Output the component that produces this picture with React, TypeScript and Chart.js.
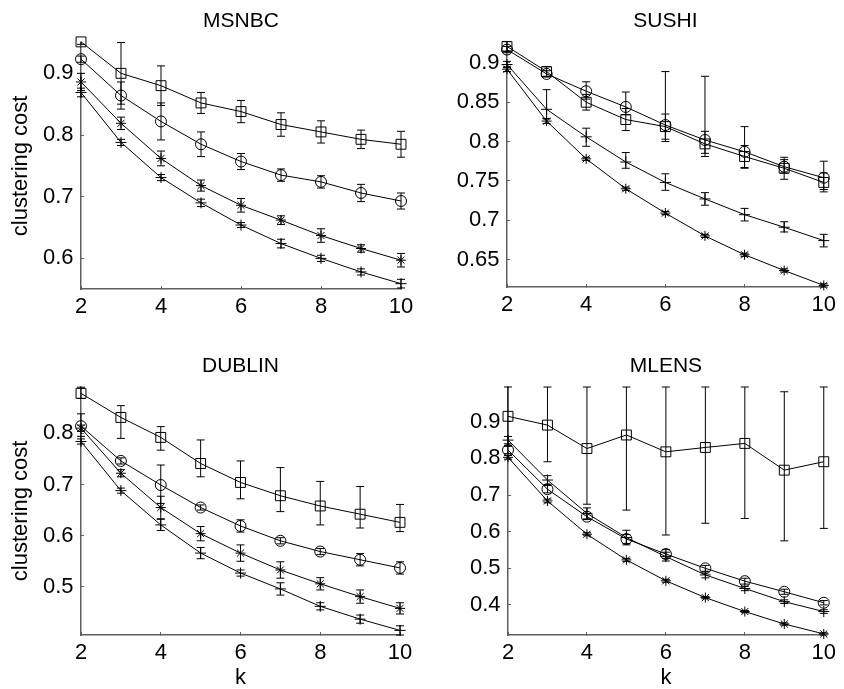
import React, { useEffect, useRef } from 'react';
import { Chart, registerables } from 'chart.js';

Chart.register(...registerables);

const FONT = "'Liberation Sans', Arial, Helvetica, sans-serif";
const AXIS_COLOR = '#5e5e5e';

// shared x values / ticks
const K = [2, 3, 4, 5, 6, 7, 8, 9, 10];
const X_TICKS = [2, 4, 6, 8, 10];

// ---------------- MSNBC ----------------
const MSNBC_Y_TICKS = [0.6, 0.7, 0.8, 0.9];
const MSNBC_Y_RANGE = [0.55, 0.95];
const MSNBC_SQ = [0.951, 0.9, 0.88, 0.852, 0.838, 0.817, 0.805, 0.793, 0.785];
const MSNBC_SQ_ERR = [0.004, 0.05, 0.032, 0.017, 0.018, 0.019, 0.018, 0.015, 0.021];
const MSNBC_CI = [0.923, 0.864, 0.822, 0.785, 0.757, 0.735, 0.724, 0.706, 0.693];
const MSNBC_CI_ERR = [0.005, 0.022, 0.03, 0.02, 0.013, 0.01, 0.01, 0.014, 0.013];
const MSNBC_ST = [0.886, 0.819, 0.762, 0.718, 0.686, 0.662, 0.637, 0.616, 0.597];
const MSNBC_ST_ERR = [0.014, 0.01, 0.012, 0.009, 0.011, 0.007, 0.011, 0.006, 0.011];
const MSNBC_PL = [0.869, 0.788, 0.731, 0.69, 0.654, 0.624, 0.6, 0.578, 0.559];
const MSNBC_PL_ERR = [0.007, 0.005, 0.005, 0.006, 0.004, 0.007, 0.005, 0.005, 0.007];

// ---------------- SUSHI ----------------
const SUSHI_Y_TICKS = [0.65, 0.7, 0.75, 0.8, 0.85, 0.9];
const SUSHI_Y_RANGE = [0.615, 0.927];
const SUSHI_SQ = [0.921, 0.889, 0.85, 0.828, 0.819, 0.797, 0.781, 0.766, 0.748];
const SUSHI_SQ_ERR = [0.006, 0.006, 0.01, 0.014, 0.016, 0.016, 0.014, 0.014, 0.012];
const SUSHI_CI = [0.917, 0.886, 0.864, 0.844, 0.821, 0.802, 0.787, 0.768, 0.754];
const SUSHI_CI_ERR = [0.004, 0.004, 0.01, 0.01, 0.021, 0.017, 0.021, 0.008, 0.015];
const SUSHI_CI_ERR_UP = [0.004, 0.004, 0.012, 0.019, 0.068, 0.081, 0.032, 0.009, 0.021];
const SUSHI_PL = [0.898, 0.841, 0.806, 0.774, 0.748, 0.727, 0.707, 0.691, 0.674];
const SUSHI_PL_ERR = [0.004, 0.012, 0.012, 0.008, 0.01, 0.008, 0.008, 0.006, 0.008];
const SUSHI_PL_ERR_UP = [0.004, 0.025, 0.011, 0.012, 0.011, 0.008, 0.008, 0.007, 0.008];
const SUSHI_ST = [0.892, 0.826, 0.778, 0.74, 0.709, 0.68, 0.656, 0.636, 0.617];
const SUSHI_ST_ERR = [0.003, 0.003, 0.002, 0.002, 0.002, 0.002, 0.002, 0.002, 0.002];

// ---------------- DUBLIN ----------------
const DUBLIN_Y_TICKS = [0.5, 0.6, 0.7, 0.8];
const DUBLIN_Y_RANGE = [0.406, 0.891];
const DUBLIN_SQ = [0.878, 0.831, 0.792, 0.741, 0.704, 0.678, 0.658, 0.642, 0.626];
const DUBLIN_SQ_ERR = [0.01, 0.041, 0.025, 0.026, 0.032, 0.031, 0.037, 0.027, 0.018];
const DUBLIN_SQ_ERR_UP = [0.012, 0.023, 0.021, 0.046, 0.042, 0.055, 0.048, 0.054, 0.035];
const DUBLIN_CI = [0.814, 0.746, 0.699, 0.655, 0.619, 0.59, 0.569, 0.553, 0.537];
const DUBLIN_CI_ERR = [0.02, 0.006, 0.036, 0.005, 0.012, 0.006, 0.006, 0.012, 0.012];
const DUBLIN_CI_ERR_UP = [0.024, 0.006, 0.039, 0.005, 0.012, 0.006, 0.006, 0.012, 0.012];
const DUBLIN_ST = [0.81, 0.722, 0.655, 0.604, 0.566, 0.533, 0.506, 0.481, 0.458];
const DUBLIN_ST_ERR = [0.006, 0.007, 0.022, 0.014, 0.016, 0.016, 0.012, 0.013, 0.011];
const DUBLIN_PL = [0.784, 0.688, 0.621, 0.566, 0.527, 0.496, 0.462, 0.437, 0.415];
const DUBLIN_PL_ERR = [0.005, 0.005, 0.011, 0.011, 0.006, 0.012, 0.007, 0.008, 0.009];

// ---------------- MLENS ----------------
const MLENS_Y_TICKS = [0.4, 0.5, 0.6, 0.7, 0.8, 0.9];
const MLENS_Y_RANGE = [0.318, 0.995];
const MLENS_SQ = [0.915, 0.891, 0.827, 0.864, 0.818, 0.83, 0.841, 0.768, 0.791];
const MLENS_SQ_ERR = [0.08, 0.1, 0.152, 0.205, 0.227, 0.207, 0.205, 0.193, 0.182];
const MLENS_SQ_ERR_UP = [0.08, 0.104, 0.168, 0.131, 0.177, 0.165, 0.154, 0.214, 0.204];
const MLENS_CI = [0.823, 0.716, 0.641, 0.58, 0.539, 0.5, 0.465, 0.436, 0.406];
const MLENS_CI_ERR = [0.01, 0.01, 0.008, 0.012, 0.012, 0.008, 0.008, 0.007, 0.006];
const MLENS_PL = [0.85, 0.741, 0.65, 0.584, 0.532, 0.482, 0.445, 0.409, 0.382];
const MLENS_PL_ERR = [0.01, 0.012, 0.015, 0.02, 0.012, 0.008, 0.006, 0.005, 0.005];
const MLENS_ST = [0.803, 0.684, 0.593, 0.523, 0.466, 0.42, 0.382, 0.348, 0.321];
const MLENS_ST_ERR = [0.005, 0.005, 0.004, 0.004, 0.004, 0.003, 0.003, 0.003, 0.003];

type Series = { values: number[]; errDown: number[]; errUp: number[]; marker: string };

const ser = (values: number[], errDown: number[], marker: string, errUp?: number[]): Series => ({
  values,
  errDown,
  errUp: errUp || errDown,
  marker,
});

const MARKER_RADIUS: Record<string, number> = { rect: 7, circle: 5.5, cross: 5.5, star: 5 };

type Panel = {
  title: string;
  yTicks: number[];
  yRange: number[];
  series: Series[];
  yTitle: boolean;
  xTitle: boolean;
  // layout (pixels)
  box: number[]; // left, top, width, height
  yAxisWidth: number;
  xAxisHeight: number;
  padRight: number;
  titlePad: number[]; // top, bottom
};

const PANELS: Panel[] = [
  {
    title: 'MSNBC',
    yTicks: MSNBC_Y_TICKS,
    yRange: MSNBC_Y_RANGE,
    series: [
      ser(MSNBC_SQ, MSNBC_SQ_ERR, 'rect'),
      ser(MSNBC_CI, MSNBC_CI_ERR, 'circle'),
      ser(MSNBC_ST, MSNBC_ST_ERR, 'star'),
      ser(MSNBC_PL, MSNBC_PL_ERR, 'cross'),
    ],
    yTitle: true,
    xTitle: false,
    box: [0, 0, 422, 340],
    yAxisWidth: 81,
    xAxisHeight: 50.8,
    padRight: 21,
    titlePad: [9.1, 8.2],
  },
  {
    title: 'SUSHI',
    yTicks: SUSHI_Y_TICKS,
    yRange: SUSHI_Y_RANGE,
    series: [
      ser(SUSHI_SQ, SUSHI_SQ_ERR, 'rect'),
      ser(SUSHI_CI, SUSHI_CI_ERR, 'circle', SUSHI_CI_ERR_UP),
      ser(SUSHI_PL, SUSHI_PL_ERR, 'cross', SUSHI_PL_ERR_UP),
      ser(SUSHI_ST, SUSHI_ST_ERR, 'star'),
    ],
    yTitle: false,
    xTitle: false,
    box: [422, 0, 422, 340],
    yAxisWidth: 85,
    xAxisHeight: 53,
    padRight: 15,
    titlePad: [9.1, 7.4],
  },
  {
    title: 'DUBLIN',
    yTicks: DUBLIN_Y_TICKS,
    yRange: DUBLIN_Y_RANGE,
    series: [
      ser(DUBLIN_SQ, DUBLIN_SQ_ERR, 'rect', DUBLIN_SQ_ERR_UP),
      ser(DUBLIN_CI, DUBLIN_CI_ERR, 'circle', DUBLIN_CI_ERR_UP),
      ser(DUBLIN_ST, DUBLIN_ST_ERR, 'star'),
      ser(DUBLIN_PL, DUBLIN_PL_ERR, 'cross'),
    ],
    yTitle: true,
    xTitle: true,
    box: [0, 340, 422, 349],
    yAxisWidth: 81,
    xAxisHeight: 54,
    padRight: 22,
    titlePad: [14.1, 7.4],
  },
  {
    title: 'MLENS',
    yTicks: MLENS_Y_TICKS,
    yRange: MLENS_Y_RANGE,
    series: [
      ser(MLENS_SQ, MLENS_SQ_ERR, 'rect', MLENS_SQ_ERR_UP),
      ser(MLENS_CI, MLENS_CI_ERR, 'circle'),
      ser(MLENS_PL, MLENS_PL_ERR, 'cross'),
      ser(MLENS_ST, MLENS_ST_ERR, 'star'),
    ],
    yTitle: false,
    xTitle: true,
    box: [422, 340, 422, 349],
    yAxisWidth: 86,
    xAxisHeight: 54,
    padRight: 15,
    titlePad: [14.1, 7.7],
  },
];

const errorBarPlugin = {
  id: 'errorBars',
  afterDatasetsDraw(chart: any) {
    const { ctx, chartArea, scales } = chart;
    const xs = scales.x;
    const ys = scales.y;
    const cap = 4;
    ctx.save();
    ctx.beginPath();
    ctx.rect(chartArea.left - 20, chartArea.top - 1, chartArea.right - chartArea.left + 40, chartArea.bottom - chartArea.top + 2);
    ctx.clip();
    ctx.strokeStyle = '#000';
    ctx.lineWidth = 1;
    ctx.beginPath();
    chart.data.datasets.forEach((ds: any) => {
      ds.data.forEach((p: any, i: number) => {
        const px = xs.getPixelForValue(p.x);
        const yLo = ys.getPixelForValue(p.y - ds.errLow[i]);
        const yHi = ys.getPixelForValue(p.y + ds.errHigh[i]);
        ctx.moveTo(px, yHi);
        ctx.lineTo(px, yLo);
        ctx.moveTo(px - cap, yHi);
        ctx.lineTo(px + cap, yHi);
        ctx.moveTo(px - cap, yLo);
        ctx.lineTo(px + cap, yLo);
      });
    });
    ctx.stroke();
    ctx.restore();
  },
};

const fmt = (v: number) => String(Math.round(v * 100) / 100);

function PanelChart({ cfg }: { cfg: Panel }) {
  const ref = useRef<HTMLCanvasElement>(null);
  useEffect(() => {
    const canvas = ref.current;
    if (!canvas) return;
    const chart = new Chart(canvas, {
      type: 'line',
      data: {
        datasets: cfg.series.map((s) => ({
          data: K.map((k, i) => ({ x: k, y: s.values[i] })),
          errLow: s.errDown,
          errHigh: s.errUp,
          borderColor: '#000',
          borderWidth: 1,
          pointStyle: s.marker,
          pointRadius: MARKER_RADIUS[s.marker],
          pointBorderColor: '#000',
          pointBackgroundColor: 'rgba(0,0,0,0)',
          pointBorderWidth: 1,
          tension: 0,
          fill: false,
          clip: false,
        })) as any,
      },
      options: {
        responsive: false,
        animation: false,
        events: [],
        layout: { padding: { left: 0, right: cfg.padRight, top: 0, bottom: 0 } },
        plugins: {
          legend: { display: false },
          tooltip: { enabled: false },
          title: {
            display: true,
            text: cfg.title,
            fullSize: false,
            color: '#000',
            font: { family: FONT, size: 21, weight: 'normal', lineHeight: 1.2 },
            padding: { top: cfg.titlePad[0], bottom: cfg.titlePad[1] },
          },
        },
        scales: {
          x: {
            type: 'linear',
            min: 2,
            max: 10,
            afterBuildTicks: (s: any) => {
              s.ticks = X_TICKS.map((v) => ({ value: v }));
            },
            afterFit: (s: any) => {
              s.height = cfg.xAxisHeight;
            },
            grid: { display: true, drawOnChartArea: false, drawTicks: true, tickLength: -3, color: AXIS_COLOR, lineWidth: 1 },
            border: { display: true, color: AXIS_COLOR, width: 1.5 },
            ticks: {
              color: '#000',
              font: { family: FONT, size: 22 },
              padding: 8,
              maxRotation: 0,
              autoSkip: false,
              callback: (v: any) => fmt(Number(v)),
            },
            title: {
              display: cfg.xTitle,
              text: 'k',
              color: '#000',
              font: { family: FONT, size: 22, lineHeight: 1 },
              padding: { top: 0, bottom: 0.5 },
            },
          },
          y: {
            type: 'linear',
            min: cfg.yRange[0],
            max: cfg.yRange[1],
            afterBuildTicks: (s: any) => {
              s.ticks = cfg.yTicks.map((v) => ({ value: v }));
            },
            afterFit: (s: any) => {
              s.width = cfg.yAxisWidth;
            },
            grid: { display: true, drawOnChartArea: false, drawTicks: true, tickLength: -3, color: AXIS_COLOR, lineWidth: 1 },
            border: { display: true, color: AXIS_COLOR, width: 1.5 },
            ticks: {
              color: '#000',
              font: { family: FONT, size: 22 },
              padding: 10.5,
              autoSkip: false,
              callback: (v: any) => fmt(Number(v)),
            },
            title: {
              display: cfg.yTitle,
              text: 'clustering cost',
              color: '#000',
              font: { family: FONT, size: 22, lineHeight: 1 },
              padding: { top: 10.3, bottom: 0 },
            },
          },
        },
      } as any,
      plugins: [errorBarPlugin],
    });
    return () => chart.destroy();
  }, [cfg]);

  const [left, top, width, height] = cfg.box;
  return (
    <div style={{ position: 'absolute', left, top, width, height }}>
      <canvas ref={ref} width={width} height={height} style={{ display: 'block', width, height }} />
    </div>
  );
}

export default function App() {
  return (
    <div style={{ position: 'absolute', left: 0, top: 0, width: 844, height: 689, background: '#fff' }}>
      {PANELS.map((p) => (
        <PanelChart key={p.title} cfg={p} />
      ))}
    </div>
  );
}
